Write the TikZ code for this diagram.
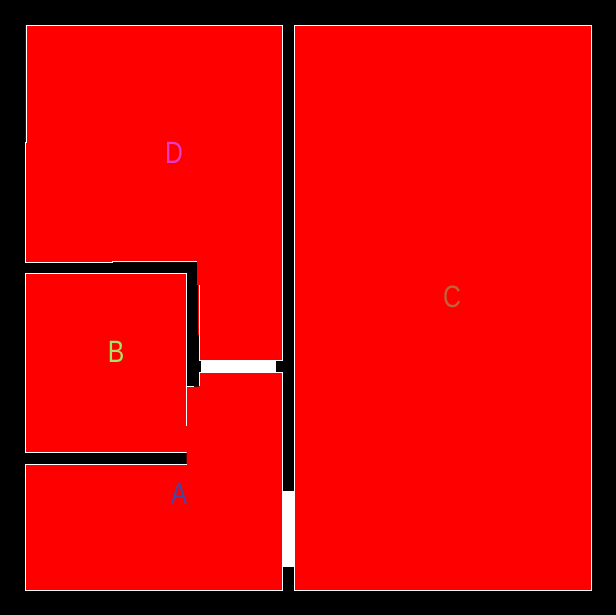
\documentclass[tikz,border=0pt]{standalone}
\usepackage{fontspec}
\setmainfont{Liberation Sans}
\definecolor{roomred}{RGB}{255,0,0}
\definecolor{labD}{RGB}{232,60,200}
\definecolor{labB}{RGB}{160,230,100}
\definecolor{labA}{RGB}{70,70,170}
\definecolor{labC}{RGB}{190,100,60}
\begin{document}
\begin{tikzpicture}[x=1bp,y=-1bp,
  roomfill/.style={fill=roomred,draw=none},
  wallline/.style={draw=white,line width=1bp},
  doorway/.style={fill=white,draw=none},
  lab/.style={font=\fontsize{31}{31}\selectfont,xscale=0.8,inner sep=0pt}]
\fill[black] (0,0) rectangle (616,615);
\useasboundingbox (0,0) rectangle (616,615);
% Room D
\path[roomfill] (25.5,25.5) -- (282.5,25.5) -- (282.5,360.5) -- (199,360.5) -- (199,335) -- (198,335) -- (198,285) -- (197,285) -- (197,261.5) -- (112,261.5) -- (112,262.5) -- (25.5,262.5) -- cycle;
\draw[wallline] (25.5,262.5) -- (25.5,143) -- (26,143) -- (26,25.5) -- (282.5,25.5) -- (282.5,360.5) -- (199,360.5) -- (199,285);
\draw[wallline] (197,261.5) -- (112,261.5) -- (112,262.5) -- (25.5,262.5);
% Room B
\path[roomfill] (25.5,273.5) rectangle (186.5,452.5);
\draw[wallline] (186.5,426) -- (186.5,273.5) -- (25.5,273.5) -- (25.5,452.5) -- (186.5,452.5);
% Room A
\path[roomfill] (199,372.5) -- (282.5,372.5) -- (282.5,590) -- (25.5,590) -- (25.5,464) -- (186.5,464) -- (186.5,386.5) -- (199,386.5) -- cycle;
\draw[wallline] (186.5,426) -- (186.5,386.5) -- (194,386.5);
\draw[wallline] (199,386) -- (199,372.5) -- (282.5,372.5) -- (282.5,590) -- (25.5,590) -- (25.5,464) -- (186.5,464);
% Room C
\path[roomfill] (294.5,25.5) rectangle (591,590);
\draw[wallline] (294.5,25.5) rectangle (591,590);
% Doorways
\path[doorway] (201,361) rectangle (276,372);
\path[doorway] (283,491) rectangle (294,567);
% Labels
\node[lab,text=labD] (D) at (174,153) {D};
\node[lab,text=labB] (B) at (116,352) {B};
\node[lab,text=labA] (A) at (179,494) {A};
\node[lab,text=labC] (C) at (452,297) {C};
\end{tikzpicture}
\end{document}
